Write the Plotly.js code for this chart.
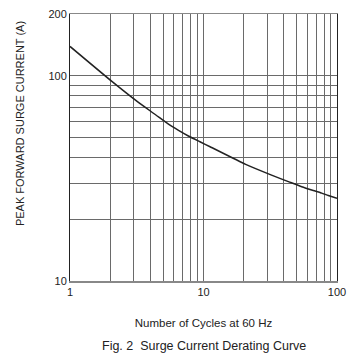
<!DOCTYPE html>
<html>
<head>
<meta charset="utf-8">
<script src="https://cdn.plot.ly/plotly-3.0.1.min.js"></script>
<style>html,body{margin:0;padding:0;background:#fff;}#chart{width:361px;height:358px;}</style>
</head>
<body>
<div id="chart"></div>
<script>
var cycles = [1, 2.07, 3.2, 4.4, 5.4, 6.5, 7.7, 9.4, 11.2, 20.7, 32, 43.7, 54.4, 66.4, 76.8, 86.1, 100];
var surgeCurrent = [139, 93.6, 74.8, 64.4, 58.4, 54.2, 50.9, 47.7, 45.1, 37.0, 32.9, 30.4, 28.8, 27.6, 26.8, 26.1, 25.3];

var xTickVals = [1, 2, 3, 4, 5, 6, 7, 8, 9, 10, 20, 30, 40, 50, 60, 70, 80, 90, 100];
var xTickText = ['1', '', '', '', '', '', '', '', '', '10', '', '', '', '', '', '', '', '', '100'];
var yTickVals = [10, 20, 30, 40, 50, 60, 70, 80, 90, 100, 200];
var yTickText = ['10', '', '', '', '', '', '', '', '', '100', '200'];

var font = {family: 'Liberation Sans, Arial, sans-serif', size: 11, color: '#222'};

Plotly.newPlot('chart', [{
  x: cycles,
  y: surgeCurrent,
  type: 'scatter',
  mode: 'lines',
  line: {color: '#222', width: 1.5, shape: 'spline', smoothing: 0.5},
  hoverinfo: 'skip'
}], {
  width: 361,
  height: 358,
  margin: {l: 70, r: 24, t: 14, b: 77},
  paper_bgcolor: '#fff',
  plot_bgcolor: '#fff',
  showlegend: false,
  font: font,
  xaxis: {
    type: 'log',
    range: [0, 2],
    tickvals: xTickVals,
    ticktext: xTickText,
    ticks: '',
    showgrid: true,
    gridcolor: '#6a6a6a',
    gridwidth: 1,
    showline: true,
    mirror: true,
    linecolor: '#888',
    linewidth: 1.5,
    zeroline: false,
    tickfont: font,
    title: {text: 'Number of Cycles at 60 Hz', font: {family: font.family, size: 11.5, color: '#222'}, standoff: 22}
  },
  yaxis: {
    type: 'log',
    range: [1, Math.log10(200)],
    tickvals: yTickVals,
    ticktext: yTickText,
    ticks: '',
    showgrid: true,
    gridcolor: '#6a6a6a',
    gridwidth: 1,
    showline: true,
    mirror: true,
    linecolor: '#222',
    linewidth: 1,
    zeroline: false,
    tickfont: font
  },
  annotations: [
    {
      text: 'PEAK FORWARD SURGE CURRENT (A)',
      textangle: -90,
      xref: 'paper', yref: 'paper',
      x: -0.185, y: 0.59,
      xanchor: 'center', yanchor: 'middle',
      showarrow: false,
      font: {family: font.family, size: 11, color: '#222'}
    },
    {
      text: 'Fig. 2  Surge Current Derating Curve',
      xref: 'paper', yref: 'paper',
      x: 0.5, y: -0.245,
      xanchor: 'center', yanchor: 'middle',
      showarrow: false,
      font: {family: font.family, size: 12.5, color: '#222'}
    }
  ]
}, {displayModeBar: false, staticPlot: true});
</script>
</body>
</html>
